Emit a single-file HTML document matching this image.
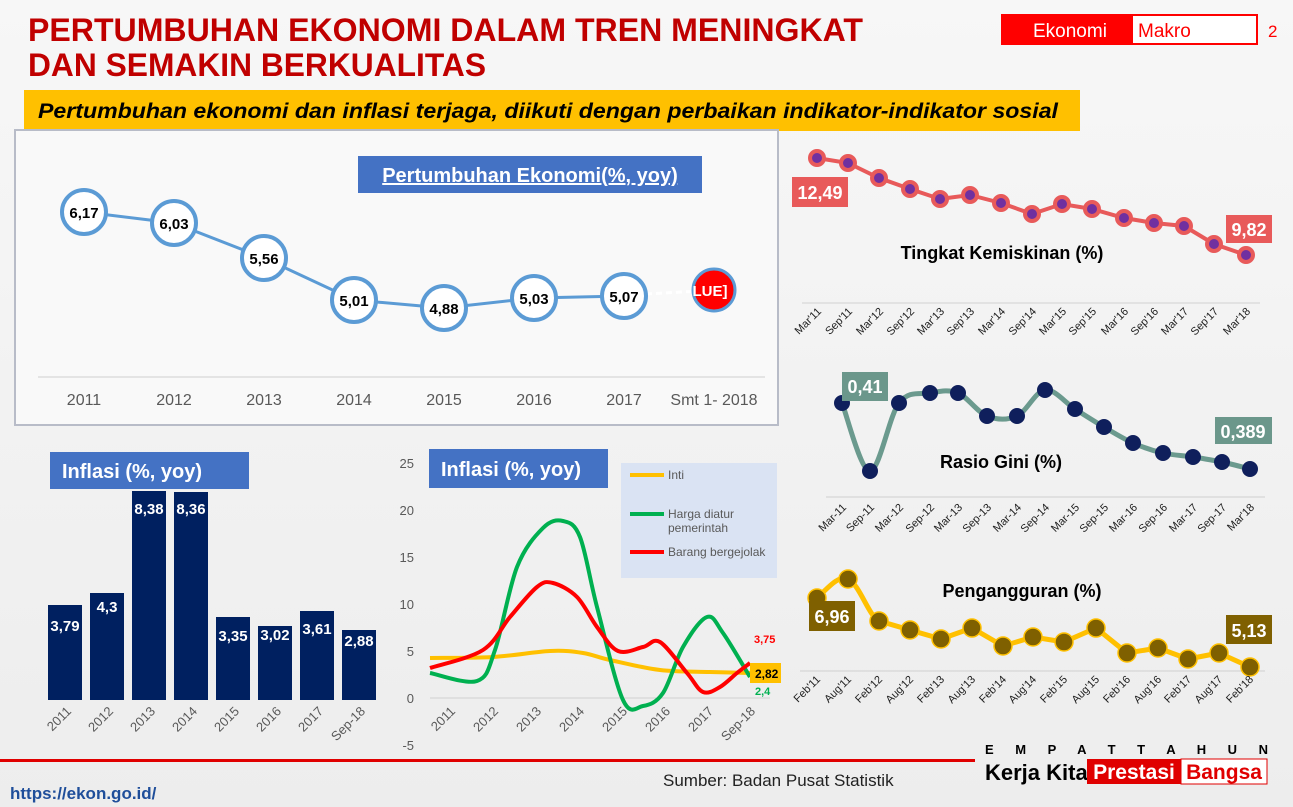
<!DOCTYPE html>
<html><head><meta charset="utf-8"><style>
html,body{margin:0;padding:0;width:1293px;height:807px;overflow:hidden;background:#f3f3f3;font-family:"Liberation Sans",sans-serif}
</style></head><body>
<svg width="1293" height="807" viewBox="0 0 1293 807" xmlns="http://www.w3.org/2000/svg" font-family="Liberation Sans, sans-serif">
<defs><linearGradient id="bg" x1="0" y1="0" x2="0" y2="1"><stop offset="0" stop-color="#f7f7f7"/><stop offset="1" stop-color="#ededed"/></linearGradient></defs>
<rect width="1293" height="807" fill="url(#bg)"/>
<g fill="#c00000" font-weight="bold" font-size="32">
<text x="28" y="41" textLength="835" lengthAdjust="spacingAndGlyphs">PERTUMBUHAN EKONOMI DALAM TREN MENINGKAT</text>
<text x="28" y="76" textLength="458" lengthAdjust="spacingAndGlyphs">DAN SEMAKIN BERKUALITAS</text>
</g>
<rect x="1001" y="14" width="257" height="31" fill="#ff0000"/>
<rect x="1133" y="16" width="123" height="27" fill="#fff"/>
<text x="1033" y="37" fill="#fff" font-size="19">Ekonomi</text>
<text x="1138" y="37" fill="#ff0000" font-size="19">Makro</text>
<text x="1268" y="37" fill="#ff0000" font-size="17">2</text>
<rect x="24" y="90" width="1056" height="41" fill="#ffc000"/>
<text x="38" y="118" font-size="21" font-weight="bold" font-style="italic" textLength="1020" lengthAdjust="spacingAndGlyphs">Pertumbuhan ekonomi dan inflasi terjaga, diikuti dengan perbaikan indikator-indikator sosial</text>
<rect x="15" y="130" width="763" height="295" fill="#f9f9f9" stroke="#b8bcc8" stroke-width="2"/>
<rect x="358" y="156" width="344" height="37" fill="#4472c4"/>
<text x="530" y="182" text-anchor="middle" fill="#fff" font-size="20" font-weight="bold" text-decoration="underline">Pertumbuhan Ekonomi(%, yoy)</text>
<line x1="38" y1="377" x2="765" y2="377" stroke="#d0d0d0"/>
<polyline points="84,212 174,223 264,258 354,300 444,308 534,298 624,296" fill="none" stroke="#5b9bd5" stroke-width="3"/>
<line x1="646" y1="294" x2="700" y2="291" stroke="#fff" stroke-width="3" stroke-dasharray="6 4"/>
<g fill="#fff" stroke="#5b9bd5" stroke-width="4">
<circle cx="84" cy="212" r="22"/><circle cx="174" cy="223" r="22"/><circle cx="264" cy="258" r="22"/><circle cx="354" cy="300" r="22"/><circle cx="444" cy="308" r="22"/><circle cx="534" cy="298" r="22"/><circle cx="624" cy="296" r="22"/>
</g>
<circle cx="714" cy="290" r="21" fill="#ff0000" stroke="#5b9bd5" stroke-width="3"/>
<g font-size="15" font-weight="bold" text-anchor="middle">
<text x="84" y="218">6,17</text><text x="174" y="229">6,03</text><text x="264" y="264">5,56</text><text x="354" y="306">5,01</text><text x="444" y="314">4,88</text><text x="534" y="304">5,03</text><text x="624" y="302">5,07</text>
<text x="710" y="296" fill="#fff">LUE]</text>
</g>
<g font-size="16" fill="#595959" text-anchor="middle">
<text x="84" y="405">2011</text><text x="174" y="405">2012</text><text x="264" y="405">2013</text><text x="354" y="405">2014</text><text x="444" y="405">2015</text><text x="534" y="405">2016</text><text x="624" y="405">2017</text><text x="714" y="405">Smt 1- 2018</text>
</g>
<rect x="50" y="452" width="199" height="37" fill="#4472c4"/>
<text x="62" y="478" fill="#fff" font-size="20" font-weight="bold">Inflasi (%, yoy)</text>
<g fill="#002060">
<rect x="48" y="605" width="34" height="95"/><rect x="90" y="593" width="34" height="107"/><rect x="132" y="491" width="34" height="209"/><rect x="174" y="492" width="34" height="208"/><rect x="216" y="617" width="34" height="83"/><rect x="258" y="626" width="34" height="74"/><rect x="300" y="611" width="34" height="89"/><rect x="342" y="630" width="34" height="70"/>
</g>
<g fill="#fff" font-size="15" font-weight="bold" text-anchor="middle">
<text x="65" y="631">3,79</text><text x="107" y="612">4,3</text><text x="149" y="514">8,38</text><text x="191" y="514">8,36</text><text x="233" y="641">3,35</text><text x="275" y="640">3,02</text><text x="317" y="634">3,61</text><text x="359" y="646">2,88</text>
</g>
<g font-size="13" fill="#595959" text-anchor="end">
<text transform="translate(72,712) rotate(-45)">2011</text><text transform="translate(114,712) rotate(-45)">2012</text><text transform="translate(156,712) rotate(-45)">2013</text><text transform="translate(198,712) rotate(-45)">2014</text><text transform="translate(240,712) rotate(-45)">2015</text><text transform="translate(282,712) rotate(-45)">2016</text><text transform="translate(324,712) rotate(-45)">2017</text><text transform="translate(366,712) rotate(-45)">Sep-18</text>
</g>
<g font-size="13" fill="#595959" text-anchor="end">
<text x="414" y="468">25</text><text x="414" y="515">20</text><text x="414" y="562">15</text><text x="414" y="609">10</text><text x="414" y="656">5</text><text x="414" y="703">0</text><text x="414" y="750">-5</text>
</g>
<line x1="430" y1="698" x2="770" y2="698" stroke="#d0d0d0"/>
<rect x="429" y="449" width="179" height="39" fill="#4472c4"/>
<text x="441" y="476" fill="#fff" font-size="20" font-weight="bold">Inflasi (%, yoy)</text>
<rect x="621" y="463" width="156" height="115" fill="#dae3f3"/>
<line x1="630" y1="475" x2="664" y2="475" stroke="#ffc000" stroke-width="4"/>
<line x1="630" y1="514" x2="664" y2="514" stroke="#00b050" stroke-width="4"/>
<line x1="630" y1="552" x2="664" y2="552" stroke="#ff0000" stroke-width="4"/>
<g font-size="12" fill="#595959"><text x="668" y="479">Inti</text><text x="668" y="518">Harga diatur</text><text x="668" y="532">pemerintah</text><text x="668" y="556">Barang bergejolak</text></g>
<polyline class="sm" points="430,658 493,657 550,651 583,653 610,660 660,670 710,672 750,673" fill="none" stroke="#ffc000" stroke-width="4" stroke-linejoin="round"/>
<polyline class="sm" points="430,673 477,681 495,650 517,567 543,528 563,521 580,537 597,607 623,700 643,706 663,693 683,647 707,617 723,633 750,677" fill="none" stroke="#00b050" stroke-width="4" stroke-linejoin="round"/>
<polyline class="sm" points="430,668 483,650 510,617 537,587 553,583 577,597 597,627 618,651 643,647 660,642 687,673 703,692 720,687 737,673 750,663" fill="none" stroke="#ff0000" stroke-width="4" stroke-linejoin="round"/>
<text x="754" y="643" fill="#ff0000" font-size="11" font-weight="bold">3,75</text>
<rect x="750" y="663" width="31" height="20" fill="#ffc000"/>
<text x="755" y="678" font-size="12" font-weight="bold">2,82</text>
<text x="755" y="695" fill="#00b050" font-size="11" font-weight="bold">2,4</text>
<g font-size="13" fill="#595959" text-anchor="end">
<text transform="translate(456,712) rotate(-45)">2011</text><text transform="translate(499,712) rotate(-45)">2012</text><text transform="translate(542,712) rotate(-45)">2013</text><text transform="translate(585,712) rotate(-45)">2014</text><text transform="translate(628,712) rotate(-45)">2015</text><text transform="translate(671,712) rotate(-45)">2016</text><text transform="translate(714,712) rotate(-45)">2017</text><text transform="translate(756,712) rotate(-45)">Sep-18</text>
</g>
<line x1="802" y1="303" x2="1260" y2="303" stroke="#d0d0d0"/>
<polyline points="817,158 848,163 879,178 910,189 940,199 970,195 1001,203 1032,214 1062,204 1092,209 1124,218 1154,223 1184,226 1214,244 1246,255" fill="none" stroke="#e85a5a" stroke-width="4"/>
<g fill="#7030a0" stroke="#e85a5a" stroke-width="4">
<circle cx="817" cy="158" r="7"/><circle cx="848" cy="163" r="7"/><circle cx="879" cy="178" r="7"/><circle cx="910" cy="189" r="7"/><circle cx="940" cy="199" r="7"/><circle cx="970" cy="195" r="7"/><circle cx="1001" cy="203" r="7"/><circle cx="1032" cy="214" r="7"/><circle cx="1062" cy="204" r="7"/><circle cx="1092" cy="209" r="7"/><circle cx="1124" cy="218" r="7"/><circle cx="1154" cy="223" r="7"/><circle cx="1184" cy="226" r="7"/><circle cx="1214" cy="244" r="7"/><circle cx="1246" cy="255" r="7"/>
</g>
<rect x="792" y="177" width="56" height="30" fill="#e85a5a"/><text x="820" y="199" text-anchor="middle" fill="#fff" font-size="18" font-weight="bold">12,49</text>
<rect x="1226" y="215" width="46" height="28" fill="#e85a5a"/><text x="1249" y="236" text-anchor="middle" fill="#fff" font-size="18" font-weight="bold">9,82</text>
<text x="1002" y="259" text-anchor="middle" font-size="18" font-weight="bold">Tingkat Kemiskinan (%)</text>
<g font-size="11" fill="#222" text-anchor="end">
<text transform="translate(822,312) rotate(-45)">Mar'11</text><text transform="translate(853,312) rotate(-45)">Sep'11</text><text transform="translate(884,312) rotate(-45)">Mar'12</text><text transform="translate(915,312) rotate(-45)">Sep'12</text><text transform="translate(945,312) rotate(-45)">Mar'13</text><text transform="translate(975,312) rotate(-45)">Sep'13</text><text transform="translate(1006,312) rotate(-45)">Mar'14</text><text transform="translate(1037,312) rotate(-45)">Sep'14</text><text transform="translate(1067,312) rotate(-45)">Mar'15</text><text transform="translate(1097,312) rotate(-45)">Sep'15</text><text transform="translate(1129,312) rotate(-45)">Mar'16</text><text transform="translate(1159,312) rotate(-45)">Sep'16</text><text transform="translate(1189,312) rotate(-45)">Mar'17</text><text transform="translate(1219,312) rotate(-45)">Sep'17</text><text transform="translate(1251,312) rotate(-45)">Mar'18</text>
</g>
<line x1="826" y1="497" x2="1265" y2="497" stroke="#d0d0d0"/>
<polyline class="sm" points="842,403 870,471 899,403 930,393 958,393 987,416 1017,416 1045,390 1075,409 1104,427 1133,443 1163,453 1193,457 1222,462 1250,469" fill="none" stroke="#6b9a8e" stroke-width="5" stroke-linejoin="round"/>
<g fill="#0f1f5c">
<circle cx="842" cy="403" r="8"/><circle cx="870" cy="471" r="8"/><circle cx="899" cy="403" r="8"/><circle cx="930" cy="393" r="8"/><circle cx="958" cy="393" r="8"/><circle cx="987" cy="416" r="8"/><circle cx="1017" cy="416" r="8"/><circle cx="1045" cy="390" r="8"/><circle cx="1075" cy="409" r="8"/><circle cx="1104" cy="427" r="8"/><circle cx="1133" cy="443" r="8"/><circle cx="1163" cy="453" r="8"/><circle cx="1193" cy="457" r="8"/><circle cx="1222" cy="462" r="8"/><circle cx="1250" cy="469" r="8"/>
</g>
<rect x="842" y="372" width="46" height="29" fill="#6b978b"/><text x="865" y="393" text-anchor="middle" fill="#fff" font-size="18" font-weight="bold">0,41</text>
<rect x="1215" y="417" width="57" height="27" fill="#6b978b"/><text x="1243" y="438" text-anchor="middle" fill="#fff" font-size="18" font-weight="bold">0,389</text>
<text x="1001" y="468" text-anchor="middle" font-size="18" font-weight="bold">Rasio Gini (%)</text>
<g font-size="11" fill="#222" text-anchor="end">
<text transform="translate(847,508) rotate(-45)">Mar-11</text><text transform="translate(875,508) rotate(-45)">Sep-11</text><text transform="translate(904,508) rotate(-45)">Mar-12</text><text transform="translate(935,508) rotate(-45)">Sep-12</text><text transform="translate(963,508) rotate(-45)">Mar-13</text><text transform="translate(992,508) rotate(-45)">Sep-13</text><text transform="translate(1022,508) rotate(-45)">Mar-14</text><text transform="translate(1050,508) rotate(-45)">Sep-14</text><text transform="translate(1080,508) rotate(-45)">Mar-15</text><text transform="translate(1109,508) rotate(-45)">Sep-15</text><text transform="translate(1138,508) rotate(-45)">Mar-16</text><text transform="translate(1168,508) rotate(-45)">Sep-16</text><text transform="translate(1198,508) rotate(-45)">Mar-17</text><text transform="translate(1227,508) rotate(-45)">Sep-17</text><text transform="translate(1255,508) rotate(-45)">Mar'18</text>
</g>
<line x1="800" y1="671" x2="1265" y2="671" stroke="#d0d0d0"/>
<path d="M817,598 C828,588 838,575 848,579 C860,585 868,615 879,621 L910,630 L941,639 L972,628 L1003,646 L1033,637 L1064,642 L1096,628 L1127,653 L1158,648 L1188,659 L1219,653 L1250,667" fill="none" stroke="#ffc000" stroke-width="5" stroke-linejoin="round"/>
<g fill="#7f6000" stroke="#ffc000" stroke-width="1.5">
<circle cx="817" cy="598" r="9"/><circle cx="848" cy="579" r="9"/><circle cx="879" cy="621" r="9"/><circle cx="910" cy="630" r="9"/><circle cx="941" cy="639" r="9"/><circle cx="972" cy="628" r="9"/><circle cx="1003" cy="646" r="9"/><circle cx="1033" cy="637" r="9"/><circle cx="1064" cy="642" r="9"/><circle cx="1096" cy="628" r="9"/><circle cx="1127" cy="653" r="9"/><circle cx="1158" cy="648" r="9"/><circle cx="1188" cy="659" r="9"/><circle cx="1219" cy="653" r="9"/><circle cx="1250" cy="667" r="9"/>
</g>
<rect x="809" y="601" width="46" height="30" fill="#7f6000"/><text x="832" y="623" text-anchor="middle" fill="#fff" font-size="18" font-weight="bold">6,96</text>
<rect x="1226" y="615" width="46" height="29" fill="#7f6000"/><text x="1249" y="637" text-anchor="middle" fill="#fff" font-size="18" font-weight="bold">5,13</text>
<text x="1022" y="597" text-anchor="middle" font-size="18" font-weight="bold">Pengangguran (%)</text>
<g font-size="11" fill="#222" text-anchor="end">
<text transform="translate(821,680) rotate(-45)">Feb'11</text><text transform="translate(852,680) rotate(-45)">Aug'11</text><text transform="translate(883,680) rotate(-45)">Feb'12</text><text transform="translate(914,680) rotate(-45)">Aug'12</text><text transform="translate(945,680) rotate(-45)">Feb'13</text><text transform="translate(976,680) rotate(-45)">Aug'13</text><text transform="translate(1007,680) rotate(-45)">Feb'14</text><text transform="translate(1037,680) rotate(-45)">Aug'14</text><text transform="translate(1068,680) rotate(-45)">Feb'15</text><text transform="translate(1100,680) rotate(-45)">Aug'15</text><text transform="translate(1131,680) rotate(-45)">Feb'16</text><text transform="translate(1162,680) rotate(-45)">Aug'16</text><text transform="translate(1192,680) rotate(-45)">Feb'17</text><text transform="translate(1223,680) rotate(-45)">Aug'17</text><text transform="translate(1254,680) rotate(-45)">Feb'18</text>
</g>
<rect x="0" y="759" width="975" height="3" fill="#e00000"/>
<text x="10" y="799" fill="#1f4e9a" font-size="17" font-weight="bold">https://ekon.go.id/</text>
<text x="663" y="786" font-size="17" fill="#222">Sumber: Badan Pusat Statistik</text>
<text x="985" y="754" font-size="13" font-weight="bold" textLength="283" lengthAdjust="spacing">E M P A T   T A H U N</text>
<text x="985" y="780" font-size="22" font-weight="bold">Kerja Kita</text>
<rect x="1087" y="759" width="94" height="25" fill="#e00000"/>
<rect x="1181" y="759" width="86" height="25" fill="#fff" stroke="#e00000"/>
<text x="1134" y="779" text-anchor="middle" fill="#fff" font-size="21" font-weight="bold">Prestasi</text>
<text x="1224" y="779" text-anchor="middle" fill="#e00000" font-size="21" font-weight="bold">Bangsa</text>
</svg>
<script>
document.querySelectorAll('polyline.sm').forEach(function(pl){
var p=pl.getAttribute('points').trim().split(/\s+/).map(function(s){return s.split(',').map(Number);});
var d='M'+p[0][0]+','+p[0][1];
for(var i=0;i<p.length-1;i++){
var p0=p[i-1]||p[i],p1=p[i],p2=p[i+1],p3=p[i+2]||p2;
var c1x=p1[0]+(p2[0]-p0[0])/6,c1y=p1[1]+(p2[1]-p0[1])/6,c2x=p2[0]-(p3[0]-p1[0])/6,c2y=p2[1]-(p3[1]-p1[1])/6;
d+=' C'+c1x.toFixed(1)+','+c1y.toFixed(1)+' '+c2x.toFixed(1)+','+c2y.toFixed(1)+' '+p2[0]+','+p2[1];
}
var path=document.createElementNS('http://www.w3.org/2000/svg','path');
path.setAttribute('d',d);
['fill','stroke','stroke-width','stroke-linejoin'].forEach(function(a){path.setAttribute(a,pl.getAttribute(a));});
pl.parentNode.replaceChild(path,pl);
});
</script>
</body></html>
